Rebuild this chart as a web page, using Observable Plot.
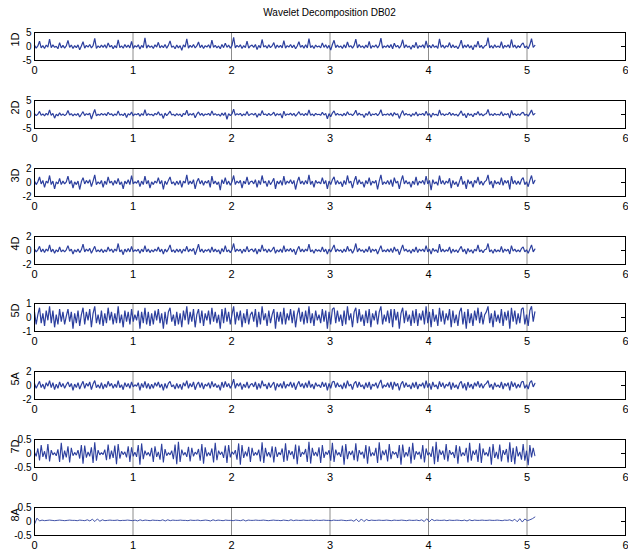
<!DOCTYPE html>
<html><head><meta charset="utf-8">
<script src="https://cdn.jsdelivr.net/npm/d3@7"></script>
<script src="https://cdn.jsdelivr.net/npm/@observablehq/plot@0.6"></script>
<style>
body{margin:0;background:#fff;overflow:hidden;}
#wrap{position:relative;width:628px;height:551px;overflow:hidden;font-family:"Liberation Sans Narrow","Liberation Sans",Arial,sans-serif;}
#title{position:absolute;top:7px;left:34px;width:591px;text-align:center;font-size:10px;color:#000;}
.panel{position:absolute;left:0;}
</style></head>
<body><div id="wrap"><div id="title">Wavelet Decomposition DB02</div></div>
<script>
const xTicks=[0,1,2,3,4,5,6];
const gridX=[1,2,3,4,5];
const panelLabels=["1D","2D","3D","4D","5D","5A","7D","8A"];
const yLimits=[5,5,2,2,1,2,0.5,0.5];
const tEnd=5.08;

const d1=[0.4,-0.6,0.2,1.9,-0.5,0.3,-0.7,0.5,-0.2,2.6,
-0.4,0.6,-0.3,0.1,-0.8,1.4,-0.5,0.4,-0.6,0.2,
2.2,-0.3,0.5,-0.7,0.3,-0.4,0.6,-1.2,0.2,1.7,
-0.6,0.4,-0.2,0.7,-0.5,0.3,2.9,-0.7,0.2,-0.4,
0.5,-0.3,0.6,-0.6,1.3,-0.2,0.4,-0.8,0.3,-0.5,
2.4,-0.4,0.2,-0.6,0.7,-0.3,0.5,-0.5,1.8,-0.7,
0.3,-0.2,0.6,-0.9,0.4,-0.4,3.1,-0.6,0.5,-0.3,
0.2,-0.7,0.6,-0.2,1.5,-0.5,0.3,-0.4,0.7,-0.6,
0.4,2.0,-0.3,0.2,-0.8,0.5,-0.5,0.3,-1.4,0.6,
-0.2,2.7,-0.6,0.4,-0.3,0.7,-0.5,0.2,1.6,-0.4,
0.5,-0.7,0.3,-0.2,0.6,-0.6,2.3,-0.3,0.4,-0.5,
0.2,-0.8,0.7,-0.4,1.2,-0.3,0.5,-0.6,0.3,3.3,
-0.5,0.4,-0.2,0.6,-0.7,0.3,-0.4,1.9,-0.6,0.2,
0.5,-0.3,0.7,-1.1,0.4,-0.5,2.5,-0.2,0.3,-0.6,
0.6,-0.4,0.2,1.4,-0.7,0.5,-0.3,0.4,-0.5,2.1,
-0.6,0.3,-0.2,0.7,-0.4,0.5,-0.8,0.2,1.7,-0.3,
0.4,-0.6,0.6,-0.5,2.8,-0.4,0.3,-0.7,0.5,-0.2,
0.2,-0.5,1.3,-0.3,0.6,-0.6,0.4,-1.3,0.7,2.2,
-0.4,0.5,-0.3,0.2,-0.7,0.6,-0.5,1.6,-0.2,0.3,
-0.6,0.4,2.6,-0.5,0.7,-0.3,0.2,-0.6,0.5,-0.4,
1.8,-0.7,0.3,-0.2,0.6,-0.5,0.4,3.0,-0.6,0.2,
-0.3,0.5,-0.4,0.7,-0.8,1.2,-0.2,0.4,-0.6,0.3,
2.4,-0.5,0.6,-0.3,0.2,-1.0,0.5,-0.4,1.5,-0.7,
0.3,-0.2,0.6,-0.6,2.0,-0.4,0.4,-0.5,0.7,-0.3,
0.2,-0.7,2.7,-0.3,0.5,-0.6,0.3,-0.2,1.4,-0.5,
0.6,-0.4,0.2,-0.8,0.4,2.3,-0.6,0.5,-0.3,0.7,
-0.5,0.3,-1.2,0.6,-0.2,1.9,-0.4,0.4,-0.7,0.2,
0.5,3.2,-0.5,0.3,-0.6,0.6,-0.3,0.2,-0.4,1.7,
-0.7,0.4,-0.2,0.6,-0.5,2.5,-0.3,0.5,-0.6,0.3,
-0.4,0.7,1.3,-0.5,0.2,-0.8,0.6,2.8,-0.3,0.4];

const d2=[0.3,-0.4,0.1,1.1,-0.3,0.2,-0.5,0.4,-0.2,1.6,
-0.3,0.4,-1.3,0.1,-0.5,0.6,-0.3,0.2,-0.4,0.1,
1.4,-0.2,0.3,-0.5,0.2,-0.3,0.4,-0.9,0.1,1.0,
-0.4,0.3,-0.1,0.5,-1.6,0.2,1.8,-0.5,0.1,-0.3,
0.4,-0.2,0.3,-0.4,0.8,-0.1,0.3,-0.5,0.2,-0.3,
1.3,-0.3,0.1,-0.4,0.5,-1.1,0.3,-0.2,0.9,-0.5,
0.2,-0.1,0.4,-0.6,0.3,-0.3,1.7,-0.4,0.3,-0.2,
0.1,-0.5,0.4,-0.1,1.0,-0.3,0.2,-1.4,0.5,-0.4,
0.3,1.2,-0.2,0.1,-0.5,0.3,-0.3,0.2,-0.8,0.4,
-0.1,1.5,-0.4,0.3,-0.2,0.5,-1.2,0.1,0.9,-0.3,
0.4,-0.5,0.2,-0.1,0.4,-0.4,1.3,-0.2,0.3,-0.3,
0.1,-0.6,0.5,-0.3,0.7,-1.7,0.3,-0.4,0.2,1.9,
-0.3,0.3,-0.1,0.4,-0.5,0.2,-0.3,1.1,-0.4,0.1,
0.3,-0.2,0.5,-1.0,0.3,-0.4,1.4,-0.1,0.2,-0.4,
0.4,-0.3,0.1,0.8,-0.5,0.3,-0.2,0.3,-1.3,1.2,
-0.4,0.2,-0.1,0.5,-0.3,0.4,-0.6,0.1,1.0,-0.2,
0.3,-0.4,0.4,-0.3,1.6,-0.3,0.2,-0.5,0.4,-0.1,
0.1,-0.3,0.8,-0.2,0.4,-1.5,0.3,-0.8,0.5,1.3,
-0.3,0.4,-0.2,0.1,-0.5,0.4,-0.4,1.0,-0.1,0.2,
-0.4,0.3,1.5,-0.3,0.5,-0.2,0.1,-1.1,0.4,-0.3,
1.1,-0.5,0.2,-0.1,0.4,-0.4,0.3,1.7,-0.4,0.1,
-0.2,0.3,-0.3,0.5,-0.6,0.7,-0.1,0.3,-1.4,0.2,
1.4,-0.3,0.4,-0.2,0.1,-0.7,0.3,-0.3,0.9,-0.5,
0.2,-0.1,0.4,-0.4,1.2,-0.3,0.3,-1.0,0.5,-0.2,
0.1,-0.5,1.6,-0.2,0.3,-0.4,0.2,-0.1,0.8,-0.3,
0.4,-0.3,0.1,-0.6,0.3,1.3,-0.4,0.3,-1.2,0.5,
-0.3,0.2,-0.8,0.4,-0.1,1.1,-0.3,0.3,-0.5,0.1,
0.3,1.8,-0.3,0.2,-0.4,0.4,-0.2,0.1,-0.3,1.0,
-0.5,0.3,-0.1,0.4,-1.3,1.4,-0.2,0.3,-0.4,0.2,
-0.3,0.5,0.8,-0.3,0.1,-0.6,0.4,1.6,-0.2,0.3];

const d3v=[0.2,-0.3,0.1,0.8,-0.2,0.3,-0.7,0.2,-0.1,1.0,
-0.3,0.2,-0.9,0.1,-0.2,0.6,-0.3,0.2,-0.2,0.1,
0.9,-0.2,0.3,-0.8,0.1,-0.3,0.2,-1.0,0.1,0.7,
-0.2,0.3,-0.1,0.4,-0.6,0.2,1.1,-0.3,0.1,-0.2,
0.3,-0.7,0.2,-0.3,0.8,-0.1,0.2,-0.4,0.3,-0.2,
0.6,-0.3,0.1,-0.9,0.2,-0.2,0.4,-0.3,1.0,-0.2,
0.1,-0.1,0.3,-0.6,0.2,-0.3,0.9,-0.2,0.3,-0.8,
0.1,-0.3,0.2,-0.1,0.7,-0.2,0.3,-1.0,0.2,-0.3,
0.3,0.8,-0.2,0.1,-0.4,0.2,-0.3,0.3,-0.7,0.2,
-0.1,1.1,-0.3,0.2,-0.2,0.4,-0.9,0.1,0.6,-0.2,
0.3,-0.4,0.2,-0.1,0.3,-0.7,0.9,-0.2,0.2,-0.3,
0.1,-1.1,0.4,-0.2,0.7,-0.3,0.2,-0.4,0.1,1.0,
-0.3,0.2,-0.1,0.3,-0.8,0.2,-0.2,0.8,-0.3,0.1,
0.2,-0.2,0.4,-0.7,0.3,-0.3,1.0,-0.1,0.2,-0.6,
0.3,-0.3,0.1,0.6,-0.9,0.2,-0.2,0.3,-0.4,0.9,
-0.3,0.2,-0.1,0.4,-0.2,0.3,-1.0,0.1,0.8,-0.2,
0.2,-0.3,0.3,-0.2,1.1,-0.3,0.2,-0.7,0.3,-0.1,
0.1,-0.2,0.7,-0.2,0.3,-0.9,0.2,-0.3,0.4,0.8,
-0.3,0.3,-0.2,0.1,-0.6,0.3,-0.3,1.0,-0.1,0.2,
-0.8,0.2,0.9,-0.3,0.4,-0.2,0.1,-0.7,0.3,-0.2,
0.7,-0.4,0.2,-0.1,0.3,-1.0,0.2,1.1,-0.3,0.1,
-0.2,0.3,-0.3,0.4,-0.6,0.7,-0.1,0.2,-0.9,0.2,
1.0,-0.2,0.3,-0.2,0.1,-0.7,0.2,-0.3,0.8,-0.4,
0.2,-0.1,0.3,-0.3,0.9,-0.2,0.3,-1.1,0.4,-0.2,
0.1,-0.4,1.0,-0.2,0.3,-0.3,0.2,-0.1,0.6,-0.8,
0.3,-0.3,0.1,-0.6,0.2,0.9,-0.3,0.2,-0.9,0.4,
-0.2,0.2,-0.7,0.3,-0.1,0.8,-0.3,0.2,-0.4,0.1,
0.3,1.1,-0.3,0.2,-0.8,0.3,-0.2,0.1,-0.3,0.7,
-0.4,0.3,-0.1,0.3,-1.0,0.9,-0.2,0.3,-0.3,0.2,
-0.3,0.4,0.7,-0.3,0.1,-0.6,0.3,1.0,-0.2,0.3];

const d4=[0.2,-0.2,0.1,0.6,-0.2,0.2,-0.3,0.2,-0.1,0.8,
-0.2,0.2,-0.4,0.1,-0.2,0.5,-0.2,0.1,-0.2,0.1,
0.7,-0.1,0.2,-0.5,0.1,-0.2,0.2,-0.3,0.1,0.9,
-0.2,0.2,-0.1,0.3,-0.4,0.1,0.6,-0.2,0.1,-0.2,
0.2,-0.3,0.1,-0.2,0.5,-0.1,0.2,-0.3,0.2,-0.1,
1.0,-0.2,0.1,-0.6,0.2,-0.2,0.3,-0.2,0.6,-0.2,
0.1,-0.1,0.2,-0.4,0.2,-0.2,0.7,-0.2,0.2,-0.3,
0.1,-0.2,0.2,-0.1,0.5,-0.2,0.2,-0.5,0.2,-0.2,
0.2,0.8,-0.2,0.1,-0.3,0.2,-0.2,0.2,-0.4,0.2,
-0.1,0.6,-0.2,0.2,-0.1,0.3,-0.6,0.1,0.9,-0.2,
0.2,-0.3,0.1,-0.1,0.2,-0.3,0.5,-0.2,0.2,-0.2,
0.1,-0.5,0.3,-0.2,0.7,-0.2,0.1,-0.3,0.1,1.0,
-0.2,0.2,-0.1,0.2,-0.4,0.2,-0.2,0.6,-0.2,0.1,
0.2,-0.2,0.3,-0.5,0.2,-0.2,0.8,-0.1,0.2,-0.3,
0.2,-0.2,0.1,0.5,-0.4,0.1,-0.2,0.2,-0.3,0.7,
-0.2,0.2,-0.1,0.3,-0.2,0.2,-0.6,0.1,0.6,-0.2,
0.2,-0.2,0.2,-0.1,0.9,-0.2,0.1,-0.4,0.2,-0.1,
0.1,-0.2,0.5,-0.2,0.2,-0.5,0.2,-0.2,0.3,0.8,
-0.2,0.2,-0.1,0.1,-0.3,0.2,-0.2,0.6,-0.1,0.2,
-0.4,0.1,1.0,-0.2,0.3,-0.1,0.1,-0.3,0.2,-0.2,
0.6,-0.3,0.2,-0.1,0.2,-0.5,0.1,0.7,-0.2,0.1,
-0.2,0.2,-0.2,0.3,-0.3,0.5,-0.1,0.2,-0.6,0.1,
0.8,-0.1,0.2,-0.2,0.1,-0.4,0.2,-0.2,0.5,-0.3,
0.2,-0.1,0.2,-0.2,0.7,-0.2,0.2,-0.5,0.3,-0.1,
0.1,-0.3,0.9,-0.2,0.2,-0.2,0.1,-0.1,0.5,-0.4,
0.2,-0.2,0.1,-0.3,0.2,0.6,-0.2,0.2,-0.5,0.3,
-0.2,0.1,-0.4,0.2,-0.1,0.8,-0.2,0.1,-0.3,0.1,
0.2,1.0,-0.2,0.1,-0.4,0.2,-0.2,0.1,-0.2,0.6,
-0.3,0.2,-0.1,0.2,-0.5,0.7,-0.1,0.2,-0.2,0.1,
-0.2,0.3,0.5,-0.2,0.1,-0.4,0.2,0.8,-0.2,0.2];

const d5=[0.4,-0.5,0.2,0.7,-0.4,0.3,-0.6,0.5,-0.2,0.8,
-0.4,0.5,-0.7,0.2,-0.5,0.6,-0.3,0.4,-0.5,0.1,
0.6,-0.3,0.4,-0.8,0.3,-0.4,0.5,-0.6,0.2,0.7,
-0.5,0.4,-0.2,0.6,-0.7,0.3,0.8,-0.4,0.2,-0.5,
0.5,-0.6,0.3,-0.4,0.7,-0.2,0.4,-0.5,0.3,-0.4,
0.8,-0.4,0.2,-0.7,0.5,-0.3,0.4,-0.5,0.6,-0.3,
0.2,-0.2,0.5,-0.8,0.4,-0.4,0.7,-0.5,0.4,-0.6,
0.3,-0.5,0.5,-0.2,0.6,-0.4,0.3,-0.8,0.4,-0.5,
0.4,0.7,-0.3,0.2,-0.6,0.4,-0.5,0.3,-0.7,0.5,
-0.2,0.8,-0.5,0.4,-0.3,0.6,-0.7,0.2,0.6,-0.4,
0.5,-0.6,0.3,-0.2,0.5,-0.5,0.7,-0.3,0.4,-0.4,
0.2,-0.8,0.6,-0.4,0.7,-0.3,0.4,-0.5,0.2,0.8,
-0.5,0.4,-0.2,0.5,-0.7,0.3,-0.4,0.6,-0.5,0.2,
0.4,-0.3,0.6,-0.7,0.4,-0.5,0.8,-0.2,0.3,-0.6,
0.5,-0.4,0.2,0.6,-0.8,0.4,-0.3,0.4,-0.5,0.7,
-0.5,0.3,-0.2,0.6,-0.4,0.5,-0.7,0.2,0.7,-0.3,
0.4,-0.5,0.5,-0.4,0.8,-0.4,0.3,-0.6,0.5,-0.2,
0.2,-0.4,0.6,-0.3,0.5,-0.8,0.4,-0.5,0.6,0.7,
-0.4,0.5,-0.3,0.2,-0.6,0.5,-0.5,0.8,-0.2,0.3,
-0.7,0.4,0.7,-0.4,0.6,-0.3,0.2,-0.6,0.5,-0.4,
0.6,-0.7,0.3,-0.2,0.5,-0.5,0.4,0.8,-0.5,0.2,
-0.3,0.5,-0.4,0.6,-0.7,0.6,-0.2,0.4,-0.8,0.3,
0.7,-0.4,0.5,-0.3,0.2,-0.6,0.5,-0.4,0.6,-0.6,
0.3,-0.2,0.5,-0.5,0.8,-0.4,0.4,-0.7,0.6,-0.3,
0.2,-0.6,0.7,-0.3,0.5,-0.5,0.3,-0.2,0.6,-0.7,
0.5,-0.4,0.2,-0.6,0.4,0.7,-0.5,0.4,-0.8,0.6,
-0.4,0.3,-0.6,0.5,-0.2,0.7,-0.4,0.4,-0.5,0.2,
0.4,0.8,-0.4,0.3,-0.7,0.5,-0.3,0.2,-0.4,0.6,
-0.6,0.4,-0.2,0.5,-0.8,0.7,-0.3,0.5,-0.5,0.3,
-0.4,0.6,0.7,-0.5,0.2,-0.6,0.5,0.8,-0.3,0.4];

const d6=[0.3,-0.4,0.1,0.6,-0.3,0.2,-0.5,0.4,-0.1,0.7,
-0.3,0.4,-0.6,0.2,-0.4,0.5,-0.2,0.3,-0.4,0.1,
0.5,-0.2,0.3,-0.7,0.2,-0.3,0.4,-0.5,0.1,0.6,
-0.4,0.3,-0.1,0.5,-0.6,0.2,0.7,-0.3,0.1,-0.4,
0.4,-0.5,0.2,-0.3,0.6,-0.1,0.3,-0.4,0.2,-0.3,
0.7,-0.3,0.1,-0.6,0.4,-0.2,0.3,-0.4,0.5,-0.2,
0.1,-0.1,0.4,-0.7,0.3,-0.3,0.6,-0.4,0.3,-0.5,
0.2,-0.4,0.4,-0.1,0.5,-0.3,0.2,-0.7,0.3,-0.4,
0.3,0.6,-0.2,0.1,-0.5,0.3,-0.4,0.2,-0.6,0.4,
-0.1,0.7,-0.4,0.3,-0.2,0.5,-0.6,0.1,0.5,-0.3,
0.4,-0.5,0.2,-0.1,0.4,-0.4,0.6,-0.2,0.3,-0.3,
0.1,-0.7,0.5,-0.3,0.6,-0.2,0.3,-0.4,0.1,0.9,
-0.4,0.3,-0.1,0.4,-0.6,0.2,-0.3,0.5,-0.4,0.1,
0.3,-0.2,0.5,-0.6,0.3,-0.4,0.7,-0.1,0.2,-0.5,
0.4,-0.3,0.1,0.5,-0.7,0.3,-0.2,0.3,-0.4,0.6,
-0.4,0.2,-0.1,0.5,-0.3,0.4,-0.6,0.1,0.6,-0.2,
0.3,-0.4,0.4,-0.3,0.7,-0.3,0.2,-0.5,0.4,-0.1,
0.1,-0.3,0.5,-0.2,0.4,-0.7,0.3,-0.4,0.5,0.6,
-0.3,0.4,-0.2,0.1,-0.5,0.4,-0.4,0.7,-0.1,0.2,
-0.6,0.3,0.6,-0.3,0.5,-0.2,0.1,-0.5,0.4,-0.3,
0.5,-0.6,0.2,-0.1,0.4,-0.4,0.3,0.8,-0.4,0.1,
-0.2,0.4,-0.3,0.5,-0.6,0.5,-0.1,0.3,-0.7,0.2,
0.6,-0.3,0.4,-0.2,0.1,-0.5,0.4,-0.3,0.5,-0.5,
0.2,-0.1,0.4,-0.4,0.7,-0.3,0.3,-0.6,0.5,-0.2,
0.1,-0.5,0.6,-0.2,0.4,-0.4,0.2,-0.1,0.5,-0.6,
0.4,-0.3,0.1,-0.5,0.3,0.6,-0.4,0.3,-0.7,0.5,
-0.3,0.2,-0.5,0.4,-0.1,0.6,-0.3,0.3,-0.4,0.1,
0.3,0.7,-0.3,0.2,-0.6,0.4,-0.2,0.1,-0.3,0.5,
-0.5,0.3,-0.1,0.4,-0.7,0.6,-0.2,0.4,-0.4,0.2,
-0.3,0.5,0.6,-0.4,0.1,-0.5,0.4,0.7,-0.2,0.3];

const d7=[0.05,-0.1,0.18,-0.25,0.3,-0.12,0.08,-0.2,0.34,-0.28,
0.12,-0.05,0.03,-0.08,0.15,-0.3,0.38,-0.22,0.1,-0.14,
0.26,-0.32,0.2,-0.08,0.04,-0.06,0.12,-0.18,0.3,-0.36,
0.28,-0.15,0.06,-0.1,0.22,-0.34,0.4,-0.26,0.12,-0.05,
0.03,-0.04,0.14,-0.24,0.32,-0.2,0.1,-0.16,0.28,-0.38,
0.34,-0.18,0.08,-0.04,0.06,-0.14,0.26,-0.3,0.22,-0.1,
0.05,-0.12,0.3,-0.4,0.36,-0.2,0.1,-0.06,0.04,-0.1,
0.2,-0.3,0.26,-0.12,0.06,-0.22,0.35,-0.32,0.16,-0.08,
0.03,-0.05,0.1,-0.2,0.32,-0.38,0.42,-0.3,0.14,-0.06,
0.04,-0.12,0.24,-0.28,0.2,-0.1,0.05,-0.03,0.16,-0.26,
0.34,-0.36,0.22,-0.1,0.04,-0.08,0.18,-0.32,0.38,-0.24,
0.1,-0.04,0.06,-0.16,0.28,-0.34,0.3,-0.14,0.06,-0.03,
0.12,-0.22,0.36,-0.4,0.3,-0.16,0.07,-0.1,0.24,-0.3,
0.2,-0.08,0.04,-0.06,0.14,-0.28,0.4,-0.34,0.2,-0.1,
0.05,-0.14,0.26,-0.32,0.24,-0.12,0.04,-0.05,0.18,-0.3,
0.36,-0.26,0.12,-0.05,0.08,-0.2,0.32,-0.38,0.28,-0.12,
0.05,-0.03,0.16,-0.3,0.42,-0.36,0.2,-0.08,0.05,-0.1,
0.22,-0.34,0.3,-0.16,0.06,-0.04,0.12,-0.26,0.38,-0.3,
0.14,-0.06,0.04,-0.12,0.28,-0.4,0.34,-0.2,0.08,-0.05,
0.1,-0.24,0.36,-0.28,0.12,-0.04,0.06,-0.18,0.3,-0.36,
0.26,-0.1,0.04,-0.08,0.2,-0.34,0.4,-0.24,0.1,-0.06,
0.14,-0.28,0.34,-0.2,0.08,-0.03,0.05,-0.16,0.3,-0.4,
0.32,-0.14,0.05,-0.1,0.24,-0.36,0.38,-0.22,0.08,-0.04,
0.06,-0.2,0.3,-0.32,0.18,-0.06,0.03,-0.12,0.26,-0.38,
0.42,-0.3,0.14,-0.05,0.1,-0.22,0.34,-0.28,0.12,-0.04,
0.05,-0.16,0.3,-0.36,0.26,-0.1,0.04,-0.08,0.2,-0.32,
0.38,-0.26,0.1,-0.05,0.14,-0.3,0.36,-0.34,0.18,-0.06,
0.04,-0.1,0.24,-0.4,0.34,-0.16,0.06,-0.2,0.32,-0.28,
0.12,-0.05,0.16,-0.32,0.4,-0.3,0.2,-0.38,0.26,-0.1,
0.06,-0.22,0.34,-0.26,0.1,-0.42,0.3,-0.14,0.2,-0.08];

const d8=[-0.1,0.12,0.02,0.05,0.03,0.04,0.05,0.04,0.03,0.04,
0.05,0.04,0.03,0.04,0.05,0.04,0.04,0.03,0.05,0.04,
0.03,0.06,0.02,0.08,0.0,0.09,0.01,0.06,0.03,0.04,
0.05,0.04,0.04,0.05,0.03,0.04,0.04,0.05,0.04,0.03,
0.05,0.02,0.06,0.03,0.05,0.04,0.03,0.05,0.04,0.04,
0.03,0.06,0.02,0.06,0.03,0.05,0.04,0.04,0.05,0.04,
0.04,0.03,0.05,0.04,0.04,0.05,0.03,0.04,0.05,0.04,
0.02,0.06,0.03,0.05,0.04,0.03,0.05,0.04,0.04,0.03,
0.05,0.04,0.03,0.06,0.02,0.05,0.04,0.04,0.05,0.04,
0.04,0.05,0.04,0.03,0.04,0.05,0.04,0.04,0.03,0.05,
0.04,0.03,0.06,0.03,0.05,0.04,0.04,0.05,0.04,0.04,
0.05,0.03,0.05,0.04,0.04,0.05,0.04,0.04,0.03,0.05,
0.04,0.04,0.05,0.04,0.03,0.04,0.05,0.01,0.08,-0.01,
0.09,0.0,0.07,0.03,0.05,0.04,0.04,0.05,0.04,0.04,
0.05,0.04,0.03,0.05,0.04,0.04,0.05,0.04,0.03,0.05,
0.04,0.04,0.05,0.03,0.06,0.0,0.1,-0.01,0.08,0.03,
0.05,0.04,0.04,0.05,0.03,0.05,0.04,0.04,0.05,0.04,
0.03,0.05,0.02,0.06,0.03,0.05,0.04,0.04,0.05,0.04,
0.04,0.05,0.04,0.04,0.05,0.04,0.03,0.05,0.04,0.06,
0.02,0.08,-0.01,0.1,-0.02,0.09,0.03,0.06,0.1,0.16];

const series=[d1,d2,d3v,d4,d5,d6,d7,d8];
const lineWidths=[1.2,1.2,1.2,1.2,1.2,1.2,1.1,0.9];

const FONT='"Liberation Sans Narrow","Liberation Sans",Arial,sans-serif';
const LINE="#2c3f9e";
const wrap=document.getElementById("wrap");
const mt=6, boxH=28, mb=24, step=67.86, firstTop=32;

series.forEach((vals,k)=>{
  const L=yLimits[k];
  const rows=vals.map((v,i)=>({t:i*tEnd/(vals.length-1), v}));
  const fmt=d=>String(d);
  const svg=Plot.plot({
    width:628, height:mt+boxH+mb,
    marginLeft:34, marginRight:3, marginTop:mt, marginBottom:mb,
    style:{fontFamily:FONT, fontSize:"10px", background:"transparent", color:"#000", overflow:"visible"},
    x:{domain:[0,6]},
    y:{domain:[-L,L]},
    marks:[
      Plot.ruleX(gridX,{stroke:"#8c8c8c", strokeWidth:1}),
      Plot.line(rows,{x:"t", y:"v", stroke:LINE, strokeWidth:lineWidths[k], strokeLinejoin:"miter"}),
      Plot.frame({stroke:"#000", strokeWidth:1}),
      Plot.axisX({ticks:xTicks, tickSize:0, tickPadding:6, fontSize:11, tickFormat:fmt, label:null}),
      Plot.axisY({ticks:[-L,0,L], tickSize:0, tickPadding:3, tickFormat:fmt, label:null}),
      Plot.axisY({anchor:"right", ticks:[0], tickSize:-5, tickFormat:()=>"", label:null, stroke:"#000"}),
      Plot.text([panelLabels[k]],{text:d=>d, frameAnchor:"left", rotate:-90, dx:-19, fontSize:11, fill:"#000"})
    ]
  });
  const div=document.createElement("div");
  div.className="panel";
  div.style.top=(Math.round(firstTop+k*step)-mt)+"px";
  div.appendChild(svg);
  wrap.appendChild(div);
});
</script>
</body></html>
